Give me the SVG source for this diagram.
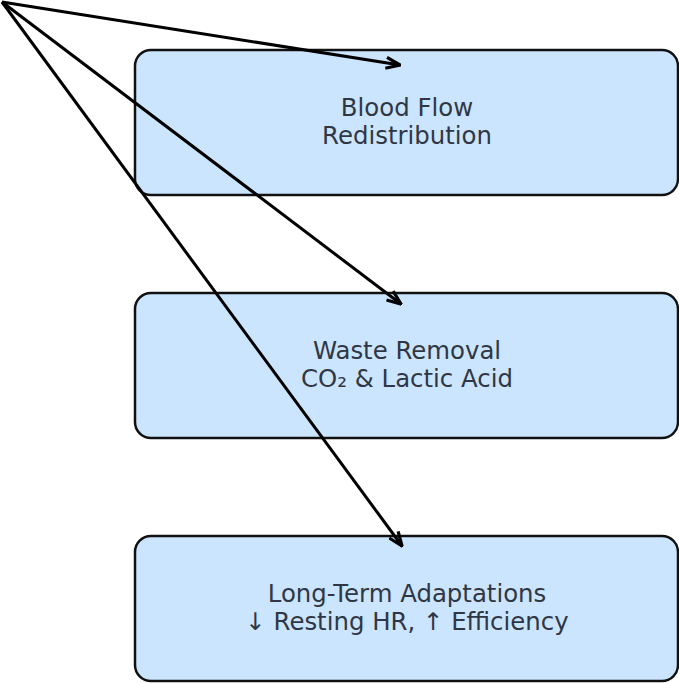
<svg xmlns="http://www.w3.org/2000/svg" width="679" height="683" viewBox="0 0 679 683">
<style>
.box{fill:#cce5ff;stroke:#111;stroke-width:2.5}
.lbl{font-family:"DejaVu Sans",sans-serif;font-size:24.4px;fill:#2f3744;text-anchor:middle}
.edge{stroke:#000;stroke-width:3;fill:none}
</style>
<defs>
<marker id="ah" viewBox="0 0 16 14" refX="15" refY="7" markerWidth="16" markerHeight="14" markerUnits="userSpaceOnUse" orient="auto">
<path d="M1,1.5 L15,7 L1,12.5" fill="none" stroke="#000" stroke-width="3.2" stroke-linejoin="miter"/>
</marker>
</defs>
<rect width="679" height="683" fill="#fff"/>
<g id="n1"><rect class="box" x="135" y="50" width="543" height="145" rx="16"/>
<text class="lbl" x="407" y="116">Blood Flow</text><text class="lbl" x="407" y="144">Redistribution</text></g>
<g id="n2"><rect class="box" x="135" y="293" width="543" height="145" rx="16"/>
<text class="lbl" x="407" y="359">Waste Removal</text><text class="lbl" x="407" y="387">CO₂ &amp; Lactic Acid</text></g>
<g id="n3"><rect class="box" x="135" y="536" width="543" height="145" rx="16"/>
<text class="lbl" x="407" y="602">Long-Term Adaptations</text><text class="lbl" x="407" y="630">↓ Resting HR, ↑ Efficiency</text></g>
<g id="edges">
<line class="edge" x1="2" y1="2" x2="400" y2="65" marker-end="url(#ah)"/>
<line class="edge" x1="2" y1="2" x2="401" y2="304" marker-end="url(#ah)"/>
<line class="edge" x1="2" y1="2" x2="402" y2="546" marker-end="url(#ah)"/>
</g>
</svg>
